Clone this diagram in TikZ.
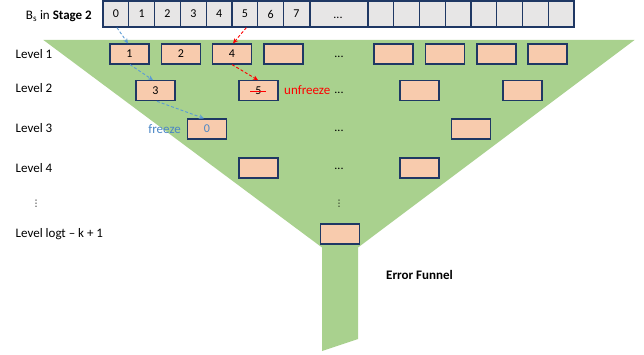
\documentclass[tikz,border=0pt]{standalone}
\usepackage{fontspec}
\setmainfont{Carlito}
\newfontfamily\symfont{DejaVu Sans}
\usetikzlibrary{arrows.meta}
\definecolor{navy}{HTML}{1F3864}
\definecolor{cellgray}{HTML}{E7E6E6}
\definecolor{peach}{HTML}{F8CBAD}
\definecolor{funnelgreen}{HTML}{A9D18E}
\definecolor{frzblue}{HTML}{5B9BD5}
\definecolor{frztext}{HTML}{4A86C5}
\tikzset{
  cell/.style={draw=navy, fill=cellgray, line width=1.2pt, minimum width=25.8pt, minimum height=26pt, inner sep=0pt, font=\fontsize{12}{14}\selectfont},
  box/.style={draw=navy, fill=peach, line width=1.2pt, minimum width=39pt, minimum height=20pt, inner sep=0pt, font=\fontsize{12}{14}\selectfont},
  lbl/.style={anchor=base west, inner sep=0pt, font=\fontsize{13}{15}\selectfont},
  dots/.style={inner sep=0pt, font=\fontsize{12}{14}\selectfont},
  vdots/.style={inner sep=0pt, font=\symfont\fontsize{9}{10}\selectfont},
  bluearrow/.style={draw=frzblue, line width=0.9pt, dash pattern=on 3pt off 2pt, -{Stealth[length=5pt,width=4.5pt]}},
  redarrow/.style={draw=red, line width=0.9pt, dash pattern=on 3pt off 2pt, -{Stealth[length=5pt,width=4.5pt]}},
}
\begin{document}
\begin{tikzpicture}[x=1pt,y=-1pt]
\useasboundingbox (0,0) rectangle (644,355);
% funnel
\fill[funnelgreen] (43.4,40) -- (634.5,40) -- (358,247.5) -- (358,339) -- (322,351) -- (322,247.5) -- cycle;
% top cells
\foreach \i in {0,...,7} {
  \node[cell] (c\i) at ({103+25.8*(\i+0.5)},14) {\i};
}
\node[cell, minimum width=58pt] (cdots) at (339,14) {};
\node[dots] (cdotstxt) at (338,18) {...};
\foreach \j in {0,...,7} {
  \node[cell] (d\j) at ({368+25.75*(\j+0.5)},14) {};
}
\node[anchor=base east, inner sep=0pt, font=\fontsize{13}{15}\selectfont] (stage) at (92,19.5) {B\textsubscript{s} in \textbf{Stage 2}};
% level labels
\node[lbl] (l1) at (15.5,58.5) {Level 1};
\node[lbl] (l2) at (15.5,93) {Level 2};
\node[lbl] (l3) at (15.5,133) {Level 3};
\node[lbl] (l4) at (15.5,173) {Level 4};
\node[vdots] (lv) at (36,204) {⋮};
\node[lbl] (lk) at (15.5,237) {Level logt – k + 1};
% level 1
\node[box] (b1) at (129.5,54) {1};
\node[box] (b2) at (181,54) {2};
\node[box] (b4) at (232,54) {4};
\node[box] (b1d) at (283.5,54) {};
\node[dots] (dd1) at (339,57) {...};
\node[box] (b1e) at (393.5,54) {};
\node[box] (b1f) at (445,54) {};
\node[box] (b1g) at (496.5,54) {};
\node[box] (b1h) at (547.5,54) {};
% level 2
\node[box] (b3) at (155.5,90.7) {3};
\node[box] (b5) at (258.5,90.7) {5};
\draw[red, line width=0.8pt] (250,91) -- (266,91);
\node[dots] (dd2) at (339,92.5) {...};
\node[box] (b2c) at (419.5,90.7) {};
\node[box] (b2d) at (522.5,90.7) {};
% level 3
\node[box, text=frztext] (b0) at (207,129) {0};
\node[dots] (dd3) at (339,131) {...};
\node[box] (b3b) at (471,129) {};
% level 4
\node[box] (b4a) at (258.5,168) {};
\node[dots] (dd4) at (339,169) {...};
\node[box] (b4b) at (419.5,168) {};
% vertical dots
\node[vdots] (vd) at (339,204) {⋮};
% last level
\node[box] (blast) at (340,234) {};
% labels
\node[anchor=base east, inner sep=0pt, text=frztext, font=\fontsize{13}{15}\selectfont] (frz) at (181,134) {freeze};
\node[anchor=base west, inner sep=0pt, text=red, font=\fontsize{13}{15}\selectfont] (ufrz) at (284,95) {unfreeze};
\node[anchor=base west, inner sep=0pt, font=\fontsize{13}{15}\selectfont\bfseries] (ef) at (386,279) {Error Funnel};
% arrows
\draw[bluearrow] ([xshift=1pt]c0.south) -- ([xshift=-1.5pt]b1.north);
\draw[bluearrow] ([xshift=0.5pt]b1.south) -- ([xshift=-2.5pt]b3.north);
\draw[bluearrow] ([xshift=1.5pt]b3.south) -- ([xshift=-3pt]b0.north);
\draw[redarrow] ([xshift=1.5pt]c5.south) -- ([xshift=1pt]b4.north);
\draw[redarrow] (b4.south) -- ([xshift=-0.5pt]b5.north);
\end{tikzpicture}
\end{document}
